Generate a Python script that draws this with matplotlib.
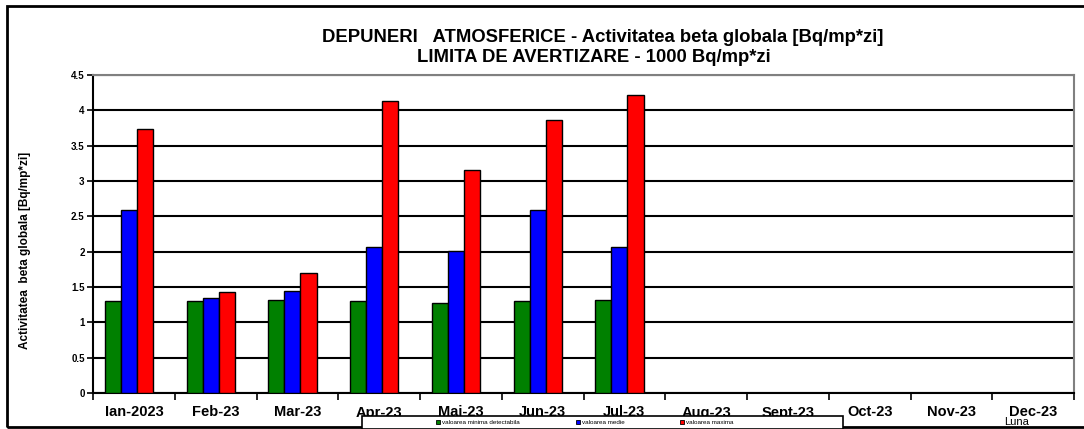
import matplotlib
matplotlib.use("Agg")
import matplotlib.pyplot as plt
import numpy as np
from matplotlib.patches import Rectangle
from matplotlib.lines import Line2D

plt.rcParams['font.family'] = ['Liberation Sans', 'DejaVu Sans']

months = ["Ian-2023", "Feb-23", "Mar-23", "Apr-23", "Mai-23", "Jun-23", "Jul-23",
          "Aug-23", "Sept-23", "Oct-23", "Nov-23", "Dec-23"]
val_min = [1.30, 1.30, 1.32, 1.30, 1.27, 1.30, 1.32]
val_med = [2.59, 1.35, 1.45, 2.06, 2.01, 2.59, 2.06]
val_max = [3.73, 1.43, 1.70, 4.13, 3.15, 3.86, 4.21]
series_labels = ["valoarea minima detectabila", "valoarea medie", "valoarea maxima"]
series_colors = ["#008000", "#0000FF", "#FF0000"]
yticks = [0, 0.5, 1, 1.5, 2, 2.5, 3, 3.5, 4, 4.5]

W, H = 1084, 429
fig = plt.figure(figsize=(W / 100, H / 100), dpi=100)
ax = fig.add_axes([93 / W, 1 - 393 / H, (1074 - 93) / W, (393 - 75) / H])

bw = 0.196
x = np.arange(len(val_min))
for k, (vals, col) in enumerate(zip([val_min, val_med, val_max], series_colors)):
    ax.bar(x + (k - 1) * bw - 0.06, vals, width=bw, color=col, edgecolor='black',
           linewidth=1.0, zorder=3)

ax.set_xlim(-0.5, len(months) - 0.5)
ax.set_ylim(0, 4.5)
ax.set_yticks(yticks)
ax.set_yticklabels([f"{v:g}" for v in yticks], fontsize=7, fontweight='bold')
ax.yaxis.grid(True, color='black', linewidth=1.5, zorder=0)
ax.set_axisbelow(True)

ax.set_xticks(np.arange(len(months)))
ax.set_xticklabels(months, fontsize=10.5, fontweight='bold')
ax.tick_params(axis='x', which='major', length=0, pad=9)
ax.set_xticks(np.arange(len(months) + 1) - 0.5, minor=True)
ax.tick_params(axis='x', which='minor', length=5, width=1.2, direction='out')
ax.tick_params(axis='y', length=4, width=1.2, direction='out', pad=2)

for s in ['top', 'right']:
    ax.spines[s].set_color('#808080')
    ax.spines[s].set_linewidth(1.5)
for s in ['left', 'bottom']:
    ax.spines[s].set_color('black')
    ax.spines[s].set_linewidth(1.5)

fig.text(603 / W, 1 - 37 / H, "DEPUNERI   ATMOSFERICE - Activitatea beta globala [Bq/mp*zi]",
         ha='center', va='center', fontsize=13.3, fontweight='bold')
fig.text(594 / W, 1 - 58 / H, "LIMITA DE AVERTIZARE - 1000 Bq/mp*zi",
         ha='center', va='center', fontsize=13.3, fontweight='bold')

fig.text(25 / W, 1 - 250 / H, "Activitatea  beta globala [Bq/mp*zi]", rotation=90,
         ha='center', va='center', fontsize=8.5, fontweight='bold')

fig.text(1017 / W, 1 - 422 / H, "Luna", ha='center', va='center', fontsize=8)

# outer frame
fig.patches.append(Rectangle((7 / W, 1 - 427 / H), 1.05, (427 - 6) / H,
                             transform=fig.transFigure, fill=False,
                             edgecolor='black', linewidth=2, zorder=1))

# legend box
fig.patches.append(Rectangle((362 / W, 0.0), (843 - 362) / W, (429 - 416) / H,
                             transform=fig.transFigure, facecolor='white',
                             edgecolor='black', linewidth=1.2, zorder=4))
handles = [Line2D([], [], marker='s', linestyle='none', markersize=3,
                  markerfacecolor=c, markeredgecolor='black', markeredgewidth=0.6)
           for c in series_colors]
leg = fig.legend(handles, series_labels, loc='center', bbox_to_anchor=(585 / W, 1 - 422 / H),
                 ncol=3, frameon=False, fontsize=4.5, handlelength=0.6,
                 handletextpad=0.3, columnspacing=9, borderpad=0)
leg.set_zorder(5)

fig.savefig("out.png", dpi=100)
